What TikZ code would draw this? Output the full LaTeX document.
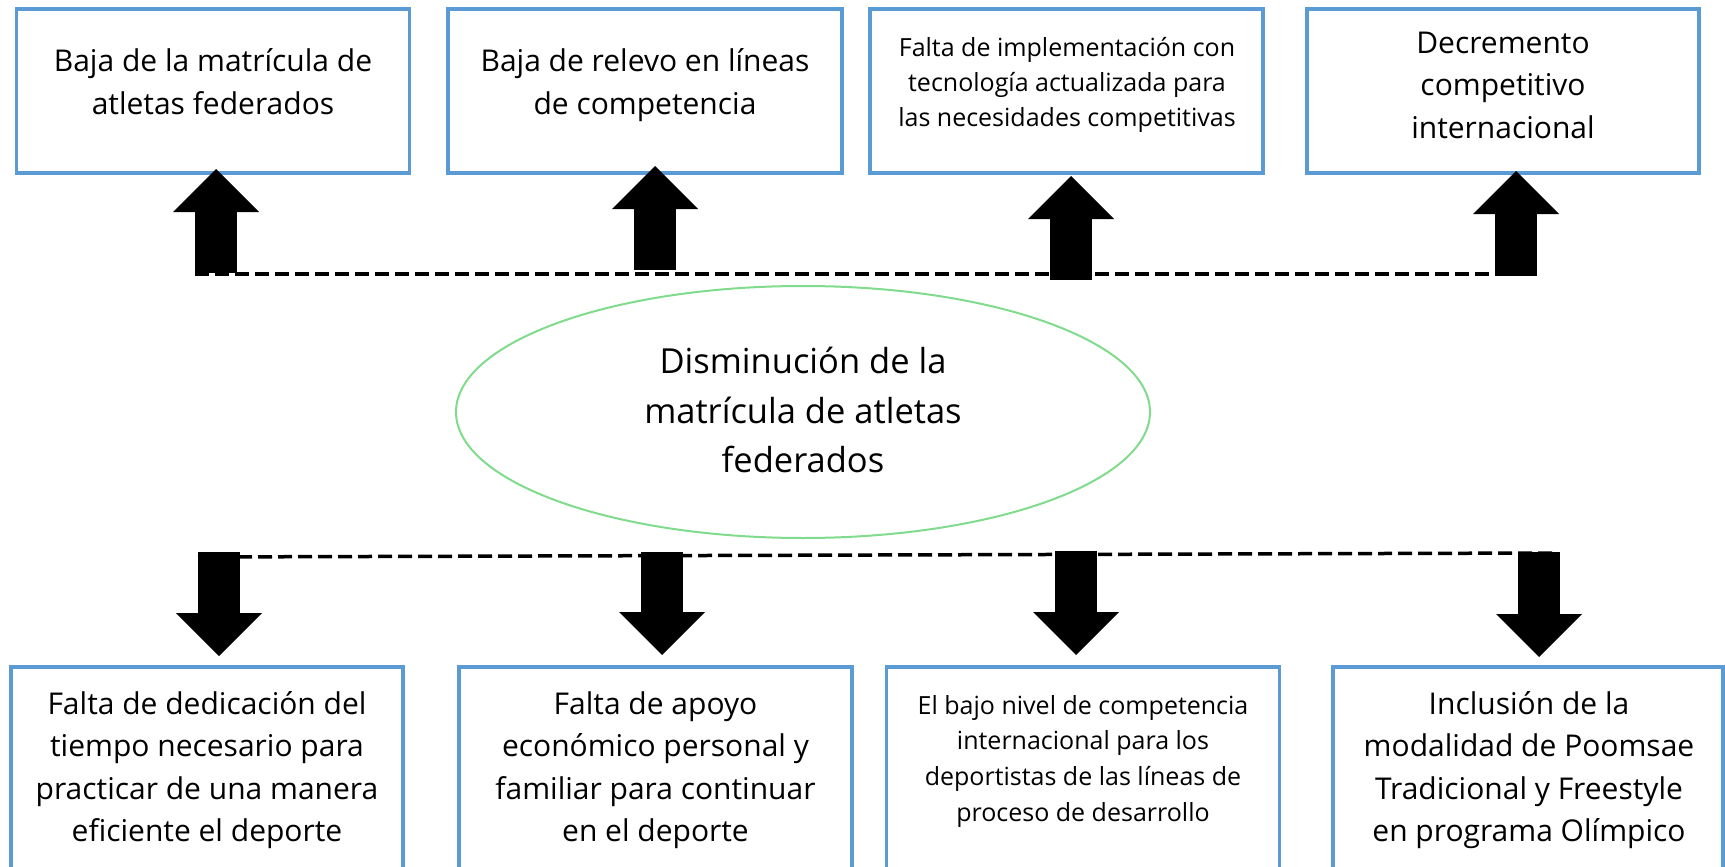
\documentclass[tikz,border=0pt]{standalone}
\usepackage{fontspec}
\setmainfont{Open Sans}
\usetikzlibrary{arrows.meta,shapes.geometric}
\definecolor{boxblue}{HTML}{5B9BD5}
\definecolor{ellgreen}{HTML}{80DC8C}
\begin{document}
\begin{tikzpicture}[x=1pt,y=-1pt,
  box/.style={draw=boxblue, line width=3.3pt, rectangle, inner sep=0pt},
  bigtext/.style={font=\fontsize{30}{42.5}\selectfont, align=center, anchor=base, inner sep=0pt},
  smalltext/.style={font=\fontsize{25}{35.5}\selectfont, align=center, anchor=base, inner sep=0pt},
  elltext/.style={font=\fontsize{34.5}{49.5}\selectfont, align=center, anchor=base, inner sep=0pt},
  blockarrow/.style={line width=42pt, -{Triangle[width=86pt,length=43pt,line width=0pt]}},
  dashline/.style={line width=3.5pt, dash pattern=on 14pt off 6pt}]
\useasboundingbox (0,0) rectangle (1725,867);
\clip (0,0) rectangle (1725,867);
\fill[white] (0,0) rectangle (1725,867);

% top boxes (text nodes are anchored at the baseline of their last line)
\node[box, minimum width=393pt, minimum height=164pt] (t1) at (213,91) {};
\node[box, minimum width=394pt, minimum height=164pt] (t2) at (645,91) {};
\node[box, minimum width=393pt, minimum height=164pt] (t3) at (1066.5,91) {};
\node[box, minimum width=392pt, minimum height=164pt] (t4) at (1503,91) {};
\node[bigtext] (t1txt) at (213,114.3) {Baja de la matrícula de\\atletas federados};
\node[bigtext] (t2txt) at (645,114.3) {Baja de relevo en líneas\\de competencia};
\node[smalltext, font=\fontsize{25}{35}\selectfont] (t3txt) at (1067,126) {Falta de implementación con\\tecnología actualizada para\\las necesidades competitivas};
\node[bigtext] (t4txt) at (1503,138) {Decremento\\competitivo\\internacional};

% central problem
\node[draw=ellgreen, line width=2pt, ellipse, inner sep=0pt, minimum width=694pt, minimum height=252pt] (core) at (803,412) {};
\node[elltext] (coretxt) at (803,472.7) {Disminución de la\\matrícula de atletas\\federados};

% bottom boxes
\node[box, minimum width=392pt, minimum height=233pt] (b1) at (207,783.5) {};
\node[box, minimum width=393pt, minimum height=233pt] (b2) at (655.5,783.5) {};
\node[box, minimum width=392.5pt, minimum height=233pt] (b3) at (1083,783.5) {};
\node[box, minimum width=390pt, minimum height=233pt] (b4) at (1528,783.5) {};
\node[bigtext] (b1txt) at (207,841.7) {Falta de dedicación del\\tiempo necesario para\\practicar de una manera\\eficiente el deporte};
\node[bigtext] (b2txt) at (655.5,841.7) {Falta de apoyo\\económico personal y\\familiar para continuar\\en el deporte};
\node[smalltext, font=\fontsize{25}{35.9}\selectfont] (b3txt) at (1083,821.7) {El bajo nivel de competencia\\internacional para los\\deportistas de las líneas de\\proceso de desarrollo};
\node[bigtext] (b4txt) at (1529,841.7) {Inclusión de la\\modalidad de Poomsae\\Tradicional y Freestyle\\en programa Olímpico};

% dashed lines
\coordinate (dtl) at (195,274);
\coordinate (dtr) at (1537,274);
\coordinate (dbl) at (198,557);
\coordinate (dbr) at (1552,553);
\draw[dashline] (dtl) -- (dtr);
\draw[dashline] (dbl) -- (dbr);

% up arrows (effects)
\coordinate (u1s) at (216,273);  \coordinate (u1e) at (216,169);
\coordinate (u2s) at (655,270);  \coordinate (u2e) at (655,166);
\coordinate (u3s) at (1071,280); \coordinate (u3e) at (1071,176);
\coordinate (u4s) at (1516,276); \coordinate (u4e) at (1516,171);
\draw[blockarrow] (u1s) -- (u1e);
\draw[blockarrow] (u2s) -- (u2e);
\draw[blockarrow] (u3s) -- (u3e);
\draw[blockarrow] (u4s) -- (u4e);

% down arrows (causes)
\coordinate (d1s) at (219,552);  \coordinate (d1e) at (219,656);
\coordinate (d2s) at (662,552);  \coordinate (d2e) at (662,655);
\coordinate (d3s) at (1076,551); \coordinate (d3e) at (1076,655);
\coordinate (d4s) at (1539,552); \coordinate (d4e) at (1539,657);
\draw[blockarrow] (d1s) -- (d1e);
\draw[blockarrow] (d2s) -- (d2e);
\draw[blockarrow] (d3s) -- (d3e);
\draw[blockarrow] (d4s) -- (d4e);
\end{tikzpicture}
\end{document}
